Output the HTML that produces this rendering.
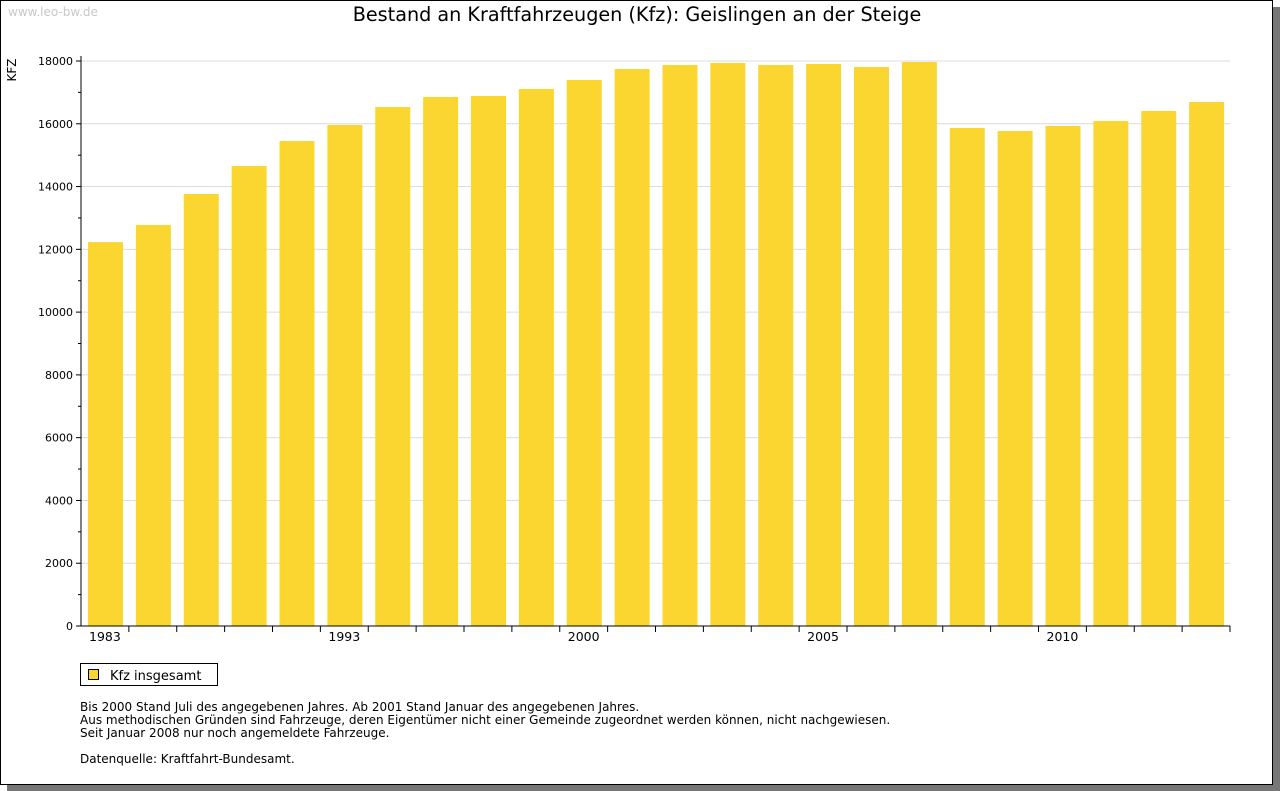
<!DOCTYPE html>
<html><head><meta charset="utf-8"><style>
body{margin:0;width:1280px;height:791px;background:#fff;font-family:"DejaVu Sans","Liberation Sans",sans-serif;overflow:hidden}
#frame{position:absolute;left:0;top:0;width:1273px;height:785px;border:1px solid #000;box-sizing:border-box;box-shadow:7px 7px 0 #777;background:#fff}
</style></head><body>
<div id="frame"></div>
<svg id="c" width="1280" height="791" style="position:absolute;left:0;top:0"></svg>
<script>
const categories=["1983","1985","1987","1989","1991","1993","1994","1995","1996","1997","2000","2001","2002","2003","2004","2005","2006","2007","2008","2009","2010","2011","2012","2013"];
const shownLabels=["1983","1993","2000","2005","2010"];
const values=[12230,12775,13763,14655,15451,15961,16534,16853,16885,17108,17394,17745,17872,17936,17872,17904,17808,17968,15865,15770,15929,16088,16407,16693];
const yTicks=[0,2000,4000,6000,8000,10000,12000,14000,16000,18000];
const NS="http://www.w3.org/2000/svg",svg=document.getElementById('c');
const L=81,R=1230,T=61,B=626,YMAX=18000;
const y=v=>B-(B-T)*v/YMAX;
const slot=(R-L)/categories.length;
const x=i=>L+slot*i;
function mk(t,a,txt){const e=document.createElementNS(NS,t);for(const k in a)e.setAttribute(k,a[k]);if(txt!=null)e.textContent=txt;svg.appendChild(e);return e;}
let e=mk('text',{x:637,y:21,'text-anchor':'middle','font-size':19.2,fill:'#000'},'Bestand an Kraftfahrzeugen (Kfz): Geislingen an der Steige');

e=mk('text',{x:8,y:16,'font-size':12,fill:'#c8c8c8'},'www.leo-bw.de');

e=mk('text',{x:16,y:70,'font-size':12,transform:'rotate(-90 16 70)','text-anchor':'middle'},'KFZ');

yTicks.forEach(v=>{
 if(v>0){e=mk('line',{x1:L,x2:R,y1:y(v),y2:y(v),stroke:'#dcdcdc','stroke-width':1});
 }
 e=mk('line',{x1:L-5,x2:L,y1:y(v),y2:y(v),stroke:'#000'});
 
 if(v<YMAX){e=mk('line',{x1:L-3,x2:L,y1:y(v+1000),y2:y(v+1000),stroke:'#000'});
 }
 e=mk('text',{x:L-8,y:y(v)+4,'text-anchor':'end','font-size':11},String(v));
 
});
values.forEach((v,i)=>{
 e=mk('rect',{x:x(i)+7,y:y(v),width:35,height:B-y(v),fill:'#fcd630'});
 
 if(i>0){e=mk('line',{x1:x(i),x2:x(i),y1:B,y2:B+6,stroke:'#000'});
 }
 if(shownLabels.includes(categories[i])){
  e=mk('text',{x:x(i)+slot/2,y:B+15,'text-anchor':'middle','font-size':12.5},categories[i]);
  }
});
e=mk('line',{x1:L,x2:L,y1:T-5,y2:B,stroke:'#000'});

e=mk('line',{x1:L,x2:R,y1:B,y2:B,stroke:'#000'});

e=mk('line',{x1:R,x2:R,y1:B,y2:B+6,stroke:'#000'});

e=mk('rect',{x:80.5,y:663.5,width:137,height:22,fill:'#fff',stroke:'#000'});

e=mk('rect',{x:88.5,y:669.5,width:10,height:10,fill:'#fcd630',stroke:'#000'});

e=mk('text',{x:110,y:680,'font-size':13},'Kfz insgesamt');

const notes=[["Bis 2000 Stand Juli des angegebenen Jahres. Ab 2001 Stand Januar des angegebenen Jahres.",711],["Aus methodischen Gründen sind Fahrzeuge, deren Eigentümer nicht einer Gemeinde zugeordnet werden können, nicht nachgewiesen.",724],["Seit Januar 2008 nur noch angemeldete Fahrzeuge.",737],["Datenquelle: Kraftfahrt-Bundesamt.",763]];
notes.forEach(n=>{e=mk('text',{x:80,y:n[1],'font-size':12},n[0]);
 });
</script>
</body></html>
